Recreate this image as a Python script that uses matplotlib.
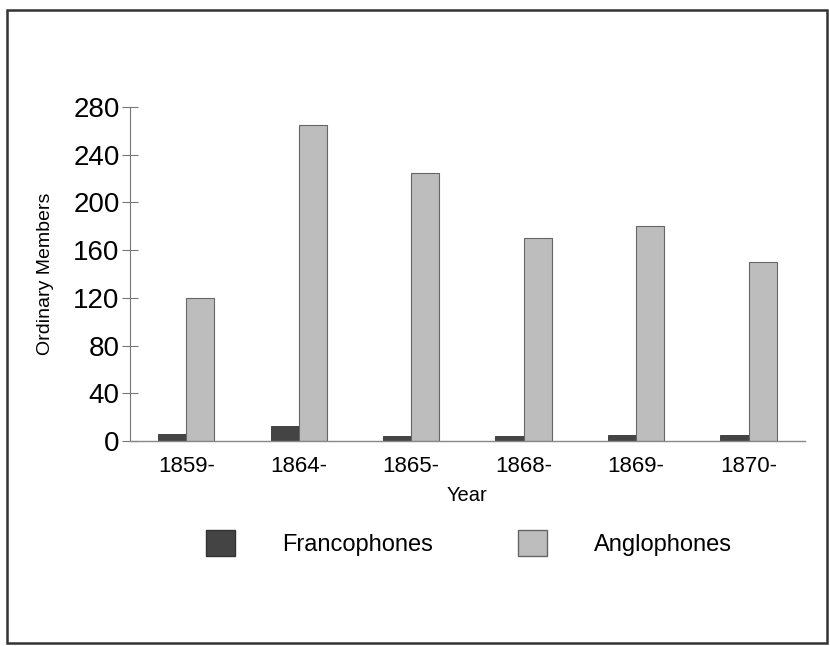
import numpy as np
import matplotlib.pyplot as plt
from matplotlib.patches import Patch, Rectangle

plt.rcParams['font.family'] = ['Liberation Sans', 'DejaVu Sans']

years = ['1859-', '1864-', '1865-', '1868-', '1869-', '1870-']
francophones = [6, 13, 4, 4, 5, 5]
anglophones = [120, 265, 225, 170, 180, 150]

col_fr = '#444444'
col_an = '#bdbdbd'

fig = plt.figure(figsize=(8.30, 6.46), dpi=100)
ax = fig.add_axes([0.1566, 0.317, 0.813, 0.5174])

x = np.arange(len(years))
w = 0.25
ax.bar(x - w / 2, francophones, w, color=col_fr, edgecolor='#333333', linewidth=0.6)
ax.bar(x + w / 2, anglophones, w, color=col_an, edgecolor='#666666', linewidth=0.8)

ax.set_xlim(-0.5, 5.5)
ax.set_ylim(0, 280)
ax.set_yticks(np.arange(0, 281, 40))
ax.set_xticks(x)
ax.set_xticklabels(years, fontsize=16)
ax.tick_params(axis='y', direction='inout', length=11, width=0.8, color='#777777',
               labelsize=20, pad=2)
ax.tick_params(axis='x', length=0, pad=11)

for s in ['top', 'right']:
    ax.spines[s].set_visible(False)
ax.spines['left'].set_color('#777777')
ax.spines['bottom'].set_color('#888888')
ax.spines['left'].set_linewidth(0.8)
ax.spines['bottom'].set_linewidth(1.0)

ax.set_ylabel('Ordinary Members', fontsize=14, labelpad=14)
ax.set_xlabel('Year', fontsize=14.5, labelpad=6)

handles = [Patch(facecolor=col_fr, edgecolor='#333333', label='Francophones'),
           Patch(facecolor=col_an, edgecolor='#666666', label='Anglophones')]
fig.legend(handles=handles, ncol=2, loc='center', bbox_to_anchor=(0.565, 1 - 543 / 646),
           frameon=False, fontsize=17, handlelength=1.23, handleheight=1.3,
           handletextpad=2.0, columnspacing=3.6)

fig.add_artist(Rectangle((0.008, 0.004), 0.988, 0.98, transform=fig.transFigure,
                         fill=False, edgecolor='#333333', linewidth=1.8))

fig.savefig('out.png', dpi=100)
